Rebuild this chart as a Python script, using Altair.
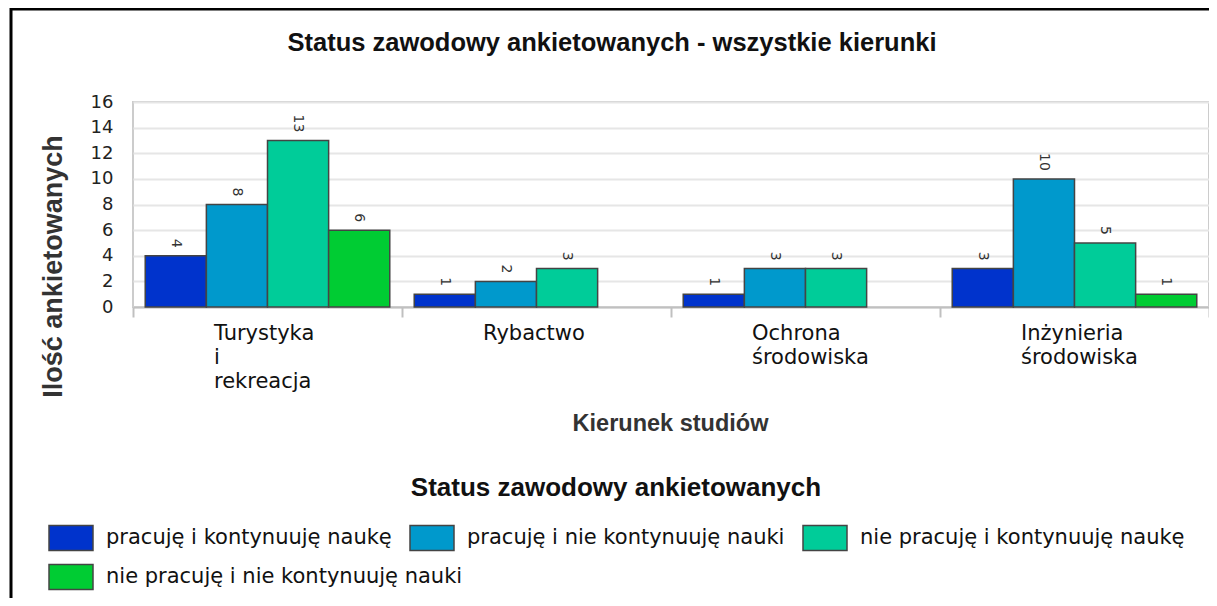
import altair as alt
import pandas as pd

categories = ["Turystyka i rekreacja", "Rybactwo", "Ochrona środowiska", "Inżynieria środowiska"]
statuses = [
    "pracuję i kontynuuję naukę",
    "pracuję i nie kontynuuję nauki",
    "nie pracuję i kontynuuję naukę",
    "nie pracuję i nie kontynuuję nauki",
]
colors = ["#0033CC", "#0099CC", "#00CC99", "#00CC33"]
s1 = [4, 1, 1, 3]
s2 = [8, 2, 3, 10]
s3 = [13, 3, 3, 5]
s4 = [6, None, None, 1]
y_ticks = [0, 2, 4, 6, 8, 10, 12, 14, 16]

rows = []
for ser, vals in zip(statuses, [s1, s2, s3, s4]):
    for c, v in zip(categories, vals):
        if v is not None:
            rows.append({"kierunek": c, "status": ser, "n": v})
df = pd.DataFrame(rows)

x_enc = alt.X(
    "kierunek:N",
    sort=categories,
    scale=alt.Scale(paddingInner=0, paddingOuter=0),
    axis=alt.Axis(
        title="Kierunek studiów",
        titleX=537, titleY=116, titleBaseline="middle", titleAlign="center",
        titleFont="Liberation Sans", titleFontSize=23.5, titleFontWeight="bold", titleColor="#333333",
        labelAngle=0, labelAlign="left", labelOffset=-54, labelBaseline="top",
        labelExpr="split(datum.label, ' ')",
        labelFont="DejaVu Sans", labelFontSize=21, labelColor="#111111", labelLineHeight=24,
        labelPadding=5,
        tickBand="extent", tickSize=10, tickColor="#c0c0c0", tickWidth=2,
        domainColor="#c0c0c0", domainWidth=2,
    ),
)
xo_enc = alt.XOffset("status:N", sort=statuses, scale=alt.Scale(paddingOuter=0.2, paddingInner=0))
y_enc = alt.Y(
    "n:Q",
    scale=alt.Scale(domain=[0, 16]),
    axis=alt.Axis(
        values=y_ticks,
        labelOverlap=False,
        title="Ilość ankietowanych",
        titleX=-80, titleY=164, titleBaseline="middle", titleAlign="center", titleAngle=-90,
        titleFont="Liberation Sans", titleFontSize=27, titleFontWeight="bold", titleColor="#333333",
        labelFont="DejaVu Sans", labelFontSize=18, labelColor="#222222", labelPadding=20,
        ticks=False, domain=False,
        grid=True, gridColor="#e6e6e6", gridWidth=2,
    ),
)

legend_common = dict(
    orient="none", legendX=-85,
    direction="horizontal", gridAlign="none", columnPadding=15,
    labelFont="DejaVu Sans", labelFontSize=21, labelColor="#111111", labelOffset=12,
    labelLimit=500,
    symbolType="M-1,-0.57H1V0.57H-1Z", symbolSize=1936,
    symbolStrokeColor="#444444", symbolStrokeWidth=1.5, symbolOpacity=1,
)

bars = alt.Chart(df).mark_bar(stroke="#444444", strokeWidth=1.5).encode(
    x=x_enc,
    xOffset=xo_enc,
    y=y_enc,
    color=alt.Color(
        "status:N",
        sort=statuses,
        scale=alt.Scale(domain=statuses, range=colors),
        legend=alt.Legend(
            title="Status zawodowy ankietowanych",
            values=statuses[:3], legendY=373, columns=3,
            titleAnchor="middle", titleFont="Liberation Sans", titleFontSize=26, titleFontWeight="bold",
            titleColor="#111111", titlePadding=14, titleLimit=800,
            **legend_common,
        ),
    ),
)

# invisible twin layer used only to carry the second legend row
legend_row2 = alt.Chart(df).mark_bar(opacity=0).encode(
    x=x_enc,
    xOffset=xo_enc,
    y=y_enc,
    fill=alt.Fill(
        "status:N",
        sort=statuses,
        scale=alt.Scale(domain=statuses, range=colors),
        legend=alt.Legend(
            title=None, values=statuses[3:], legendY=452, columns=1,
            **legend_common,
        ),
    ),
)

labels = alt.Chart(df).mark_text(
    angle=90, align="right", baseline="middle", dx=-8,
    font="DejaVu Sans", fontSize=14, color="#333333",
).encode(
    x=x_enc,
    xOffset=xo_enc,
    y=y_enc,
    text="n:Q",
)

frame = alt.Chart(pd.DataFrame({"a": [0]})).mark_rect(
    fill=None, stroke="#000000", strokeWidth=3
).encode(
    x=alt.value(-122), x2=alt.value(1300), y=alt.value(-93), y2=alt.value(600)
)

chart = alt.layer(frame, bars, legend_row2, labels).resolve_scale(
    color="independent", fill="independent"
).properties(
    width=1076,
    height=205,
    padding={"left": 125, "top": 94, "right": 0, "bottom": 291},
    autosize=alt.AutoSizeParams(type="none"),
    title=alt.TitleParams(
        "Status zawodowy ankietowanych - wszystkie kierunki",
        font="Liberation Sans", fontSize=25.5, fontWeight="bold", color="#111111",
        anchor="middle", dx=-59, offset=-49,
    ),
).configure_view(stroke="#cccccc", strokeWidth=2)

chart.save("out.html", embed_options={"renderer": "svg", "actions": False})
